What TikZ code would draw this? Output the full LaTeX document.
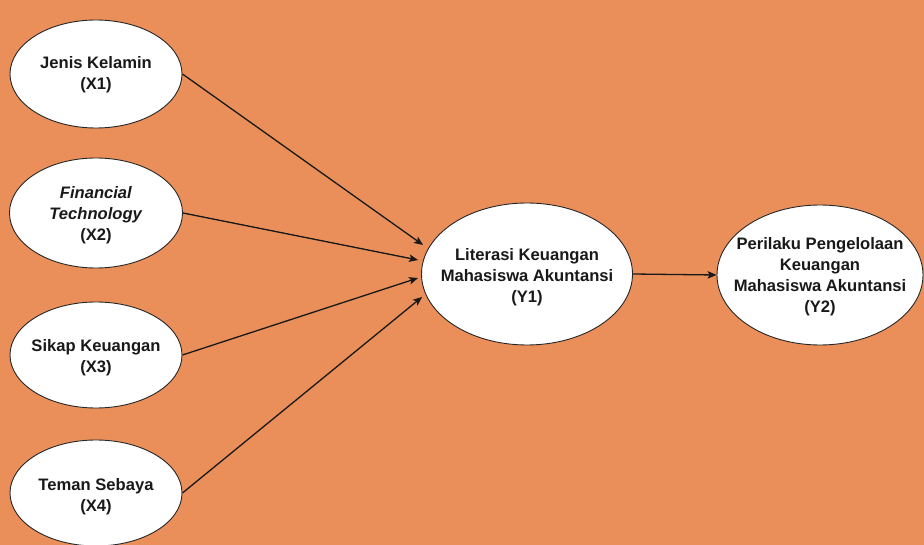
\documentclass[tikz,border=0pt]{standalone}
\usepackage{fontspec}
\setmainfont{Liberation Sans}
\usetikzlibrary{shapes.geometric,arrows.meta}
\definecolor{bgorange}{RGB}{234,143,90}
\definecolor{txtdark}{RGB}{25,25,25}
\begin{document}
\begin{tikzpicture}[x=1pt,y=-1pt,
  var/.style={ellipse,draw=black!85,line width=0.9pt,fill=white,inner sep=0pt},
  lbl/.style={font=\bfseries\fontsize{16.6}{21}\selectfont,text=txtdark,align=center,inner sep=0pt},
  link/.style={-{Stealth[length=9pt,width=7.5pt,inset=2pt]},line width=1.3pt,draw=black!90}]
\fill[bgorange] (0,0) rectangle (924,545);
\useasboundingbox (0,0) rectangle (924,545);
\node[var,minimum width=172pt,minimum height=108pt] (x1) at (96,74) {};
\node[var,minimum width=173pt,minimum height=110pt] (x2) at (96,213) {};
\node[var,minimum width=172pt,minimum height=106pt] (x3) at (96,355) {};
\node[var,minimum width=172pt,minimum height=106pt] (x4) at (96,493) {};
\node[var,minimum width=211pt,minimum height=142pt] (y1) at (527,274) {};
\node[var,minimum width=206pt,minimum height=140pt] (y2) at (820,275) {};
\node[lbl] at ([yshift=-1pt]x1.center) {Jenis Kelamin\\(X1)};
\node[lbl] at ([yshift=-2pt]x2.center) {\textit{Financial}\\\textit{Technology}\\(X2)};
\node[lbl] at ([yshift=-3pt]x3.center) {Sikap Keuangan\\(X3)};
\node[lbl] at ([yshift=-4pt]x4.center) {Teman Sebaya\\(X4)};
\node[lbl] at ([yshift=-3pt]y1.center) {Literasi Keuangan\\Mahasiswa Akuntansi\\(Y1)};
\node[lbl] at ([yshift=-2pt]y2.center) {Perilaku Pengelolaan\\Keuangan\\Mahasiswa Akuntansi\\(Y2)};
\draw[link] (x1.east) -- ([xshift=2pt,yshift=29pt]y1.west);
\draw[link] (x2.east) -- ([xshift=-3pt,yshift=14pt]y1.west);
\draw[link] (x3.east) -- ([xshift=-3pt,yshift=-4pt]y1.west);
\draw[link] (x4.east) -- ([xshift=1pt,yshift=-23pt]y1.west);
\draw[link] (y1.east) -- (y2.west);
\end{tikzpicture}
\end{document}
